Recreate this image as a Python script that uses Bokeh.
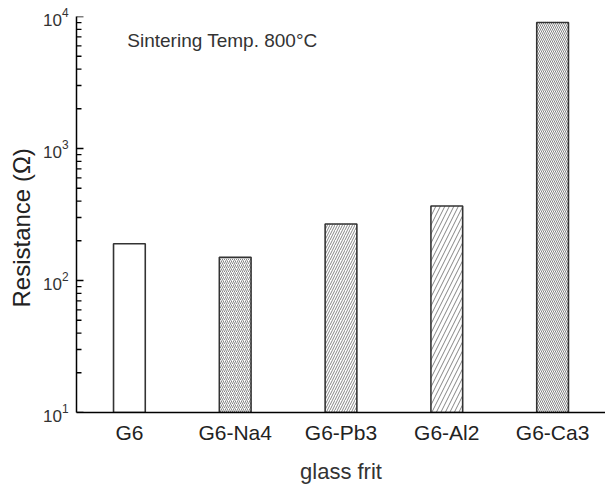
from bokeh.plotting import figure
from bokeh.models import ColumnDataSource, Range1d, FixedTicker, Label, Title
from bokeh.embed import file_html
from bokeh.resources import INLINE

# Glass frit compositions and measured resistance (ohm) after sintering at 800 C
frits = ["G6", "G6-Na4", "G6-Pb3", "G6-Al2", "G6-Ca3"]
resistance = [190, 150, 268, 367, 9000]

# Hatch fill per bar
hatch_patterns = [" ", "/", "/", "/", "\\"]
hatch_scales = [6, 4, 5, 9, 4]

# Log axis decades and the 2..9 minor ticks between them
decades = [10, 100, 1000, 10000]
minor = [m * d for d in decades[:-1] for m in range(2, 10)]

source = ColumnDataSource(dict(
    frit=frits,
    resistance=resistance,
    hatch=hatch_patterns,
    hscale=hatch_scales,
))

FONT = "Liberation Sans"
PX_PER_CAT = 106.0  # frame width / number of categories

p = figure(
    width=605, height=486,
    x_range=frits,
    y_range=Range1d(10, 10000),
    y_axis_type="log",
    output_backend="svg",
    toolbar_location=None,
    min_border_left=75, min_border_right=0,
    min_border_top=16, min_border_bottom=73,
)

p.vbar(
    x="frit", top="resistance", bottom=10, width=0.30, source=source,
    fill_color="white", line_color="#333333", line_width=1.6,
    hatch_pattern="hatch", hatch_scale="hscale",
    hatch_color="#666666", hatch_weight=0.8,
)

# Inward-pointing y ticks drawn along the left edge of the frame
left = 0.0  # start of the categorical range
tick_src = ColumnDataSource(dict(
    x0=[left] * len(decades), x1=[left + 7 / PX_PER_CAT] * len(decades), y=decades,
))
minor_src = ColumnDataSource(dict(
    x0=[left] * len(minor), x1=[left + 5 / PX_PER_CAT] * len(minor), y=minor,
))
p.segment(x0="x0", x1="x1", y0="y", y1="y", source=tick_src,
          line_color="black", line_width=1.5)
p.segment(x0="x0", x1="x1", y0="y", y1="y", source=minor_src,
          line_color="black", line_width=1.3)

p.add_layout(Label(
    x=0.48, y=6600, text="Sintering Temp. 800\u00b0C",
    text_font=FONT, text_font_size="19px", text_color="#333333",
    text_baseline="middle",
))

# Rotated y-axis title on the left side
p.add_layout(Title(
    text="Resistance (\u03a9)", align="left", offset=105, standoff=10,
    text_font=FONT, text_font_size="24px", text_font_style="normal",
    text_color="#222222",
), "left")

p.outline_line_color = None
p.xgrid.grid_line_color = None
p.ygrid.grid_line_color = None
p.background_fill_color = "white"
p.border_fill_color = "white"

# Y axis: log tick labels
p.yaxis.ticker = FixedTicker(ticks=decades, minor_ticks=minor)
p.yaxis.major_label_text_font = FONT
p.yaxis.major_label_text_font_size = "17px"
p.yaxis.major_label_text_color = "#333333"
p.yaxis.major_label_standoff = 8
p.yaxis.major_tick_in = 0
p.yaxis.major_tick_out = 0
p.yaxis.minor_tick_in = 0
p.yaxis.minor_tick_out = 0
p.yaxis.axis_line_width = 1.5
p.yaxis.axis_line_color = "black"

# X axis: category labels without tick marks
p.xaxis.axis_label = "glass frit"
p.xaxis.axis_label_text_font = FONT
p.xaxis.axis_label_text_font_size = "22px"
p.xaxis.axis_label_text_font_style = "normal"
p.xaxis.axis_label_text_color = "#333333"
p.xaxis.axis_label_standoff = 12
p.xaxis.major_label_text_font = FONT
p.xaxis.major_label_text_font_size = "21px"
p.xaxis.major_label_text_color = "#222222"
p.xaxis.major_label_standoff = 8
p.xaxis.major_tick_in = 0
p.xaxis.major_tick_out = 0
p.xaxis.axis_line_width = 1.5
p.xaxis.axis_line_color = "black"

open("out.html", "w").write(file_html(p, INLINE))
